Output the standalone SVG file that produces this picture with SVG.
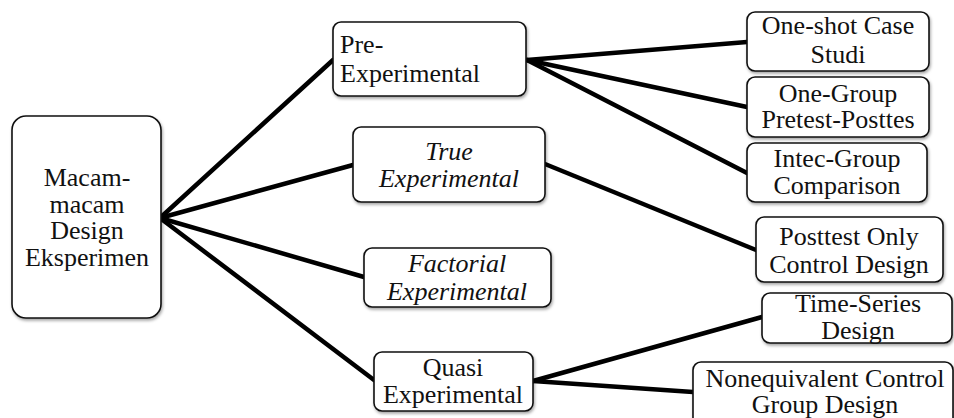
<svg xmlns="http://www.w3.org/2000/svg" width="954" height="418" viewBox="0 0 954 418">
<style>
.box{fill:#fff;stroke:#111;stroke-width:1.6;filter:url(#sh)}
text{font-family:'Liberation Serif','Times New Roman',Tinos,'Noto Serif','DejaVu Serif',serif;font-size:26px;fill:#111;text-anchor:middle}
.i{font-style:italic}
.l{text-anchor:start}
.c{stroke:#000;stroke-width:4.5;stroke-linecap:round;fill:none}
</style>
<defs>
<filter id="sh" x="-10%" y="-10%" width="130%" height="130%">
<feDropShadow dx="1" dy="2" stdDeviation="1.5" flood-color="#000" flood-opacity="0.35"/>
</filter>
</defs>
<rect width="954" height="418" fill="#fff"/>
<g id="connectors">
<line class="c" x1="160" y1="218" x2="333" y2="60"/>
<line class="c" x1="160" y1="218" x2="353" y2="165"/>
<line class="c" x1="160" y1="218" x2="364" y2="277"/>
<line class="c" x1="160" y1="218" x2="374" y2="380"/>
<line class="c" x1="527" y1="60" x2="747" y2="42"/>
<line class="c" x1="527" y1="60" x2="747" y2="107"/>
<line class="c" x1="527" y1="60" x2="747" y2="173"/>
<line class="c" x1="545" y1="164" x2="756" y2="250"/>
<line class="c" x1="533" y1="381" x2="762" y2="317"/>
<line class="c" x1="533" y1="381" x2="693" y2="392"/>
</g>
<g id="root">
<rect class="box" x="12" y="116" width="149" height="202" rx="14"/>
<text x="87" y="186">Macam-</text>
<text x="87" y="213">macam</text>
<text x="87" y="239">Design</text>
<text x="87" y="266">Eksperimen</text>
</g>
<g id="pre">
<rect class="box" x="333" y="22" width="193" height="74" rx="8"/>
<text class="l" x="340" y="53">Pre-</text>
<text class="l" x="340" y="82">Experimental</text>
</g>
<g id="true">
<rect class="box" x="353" y="127" width="192" height="75" rx="8"/>
<text class="i" x="449" y="160">True</text>
<text class="i" x="449" y="187">Experimental</text>
</g>
<g id="factorial">
<rect class="box" x="364" y="248" width="187" height="59" rx="8"/>
<text class="i" x="457" y="272">Factorial</text>
<text class="i" x="457" y="300">Experimental</text>
</g>
<g id="quasi">
<rect class="box" x="374" y="352" width="159" height="59" rx="8"/>
<text x="453" y="376">Quasi</text>
<text x="453" y="403">Experimental</text>
</g>
<g id="oneshot">
<rect class="box" x="747" y="12" width="182" height="59" rx="8"/>
<text x="838" y="34">One-shot Case</text>
<text x="838" y="63">Studi</text>
</g>
<g id="onegroup">
<rect class="box" x="747" y="77" width="182" height="60" rx="8"/>
<text x="838" y="102">One-Group</text>
<text x="838" y="128">Pretest-Posttes</text>
</g>
<g id="intec">
<rect class="box" x="747" y="143" width="180" height="59" rx="8"/>
<text x="837" y="167">Intec-Group</text>
<text x="837" y="194">Comparison</text>
</g>
<g id="posttest">
<rect class="box" x="756" y="217" width="187" height="65" rx="8"/>
<text x="849" y="245">Posttest Only</text>
<text x="849" y="273">Control Design</text>
</g>
<g id="timeseries">
<rect class="box" x="762" y="293" width="190" height="50" rx="8"/>
<text x="858" y="312">Time-Series</text>
<text x="858" y="339">Design</text>
</g>
<g id="nonequivalent">
<rect class="box" x="693" y="362" width="260" height="70" rx="8"/>
<text x="825" y="387">Nonequivalent Control</text>
<text x="825" y="413">Group Design</text>
</g>
</svg>
